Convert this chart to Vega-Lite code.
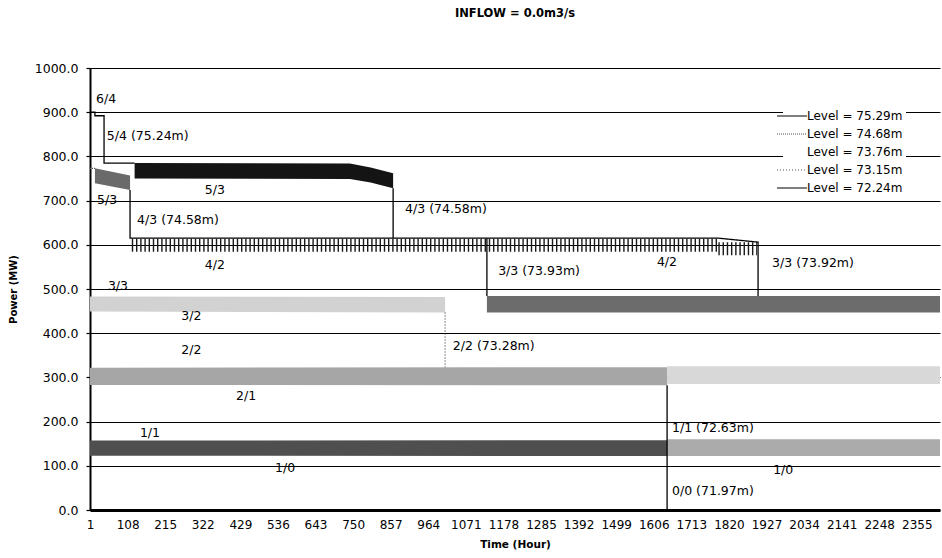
{
  "$schema": "https://vega.github.io/schema/vega-lite/v6.json",
  "width": 850,
  "height": 442,
  "autosize": "none",
  "padding": {"left": 90, "top": 68, "right": 2, "bottom": 48},
  "background": "white",
  "title": {"text": "INFLOW = 0.0m3/s", "font": "DejaVu Sans", "fontSize": 11.5, "fontWeight": "bold", "color": "black", "anchor": "middle", "offset": 43},
  "config": {"view": {"stroke": null}, "font": "DejaVu Sans"},
  "datasets": {
    "bands": [
      {"band": "b53a", "hour": 15, "mw": 773, "bot": 739},
      {"band": "b53a", "hour": 115, "mw": 757, "bot": 724},
      {"band": "b53", "hour": 128, "mw": 785, "bot": 750},
      {"band": "b53", "hour": 741, "mw": 784, "bot": 749},
      {"band": "b53", "hour": 800, "mw": 775, "bot": 741},
      {"band": "b53", "hour": 864, "mw": 762, "bot": 728},
      {"band": "b32", "hour": 1, "mw": 483, "bot": 449},
      {"band": "b32", "hour": 1012, "mw": 482, "bot": 447},
      {"band": "b21", "hour": 1, "mw": 322, "bot": 283},
      {"band": "b21", "hour": 1644, "mw": 323, "bot": 282},
      {"band": "b21r", "hour": 1644, "mw": 325, "bot": 285},
      {"band": "b21r", "hour": 2421, "mw": 325, "bot": 285},
      {"band": "b11", "hour": 1, "mw": 157, "bot": 123},
      {"band": "b11", "hour": 1644, "mw": 158, "bot": 122},
      {"band": "b11r", "hour": 1644, "mw": 160, "bot": 122},
      {"band": "b11r", "hour": 2421, "mw": 160, "bot": 122},
      {"band": "b33", "hour": 1131, "mw": 484, "bot": 447},
      {"band": "b33", "hour": 2421, "mw": 484, "bot": 447}
    ],
    "comb": [
      {"seg": "c1", "hour": 120, "mw": 599},
      {"seg": "c1", "hour": 1790, "mw": 599},
      {"seg": "c2", "hour": 1790, "mw": 591},
      {"seg": "c2", "hour": 1900, "mw": 591}
    ],
    "lines": [
      {"seg": "s1", "i": 1, "hour": 1, "mw": 900, "level": "Level = 75.29m"},
      {"seg": "s1", "i": 2, "hour": 15, "mw": 900, "level": "Level = 75.29m"},
      {"seg": "s1", "i": 3, "hour": 15, "mw": 892, "level": "Level = 75.29m"},
      {"seg": "s1", "i": 4, "hour": 41, "mw": 892, "level": "Level = 75.29m"},
      {"seg": "s1", "i": 5, "hour": 41, "mw": 785, "level": "Level = 75.29m"},
      {"seg": "s1", "i": 6, "hour": 128, "mw": 785, "level": "Level = 75.29m"},
      {"seg": "s2", "i": 1, "hour": 115, "mw": 724, "level": "Level = 75.29m"},
      {"seg": "s2", "i": 2, "hour": 115, "mw": 615, "level": "Level = 75.29m"},
      {"seg": "s2", "i": 3, "hour": 1790, "mw": 615, "level": "Level = 75.29m"},
      {"seg": "s2", "i": 4, "hour": 1903, "mw": 606, "level": "Level = 75.29m"},
      {"seg": "s2", "i": 5, "hour": 1903, "mw": 484, "level": "Level = 75.29m"},
      {"seg": "s3", "i": 1, "hour": 864, "mw": 728, "level": "Level = 75.29m"},
      {"seg": "s3", "i": 2, "hour": 864, "mw": 615, "level": "Level = 75.29m"},
      {"seg": "s4", "i": 1, "hour": 1131, "mw": 615, "level": "Level = 72.24m"},
      {"seg": "s4", "i": 2, "hour": 1131, "mw": 484, "level": "Level = 72.24m"},
      {"seg": "s5", "i": 1, "hour": 1, "mw": 773, "level": "Level = 74.68m"},
      {"seg": "s5", "i": 2, "hour": 15, "mw": 773, "level": "Level = 74.68m"},
      {"seg": "s6", "i": 1, "hour": 1012, "mw": 447, "level": "Level = 73.15m"},
      {"seg": "s6", "i": 2, "hour": 1012, "mw": 323, "level": "Level = 73.15m"},
      {"seg": "s7", "i": 1, "hour": 1644, "mw": 282, "level": "Level = 72.24m"},
      {"seg": "s7", "i": 2, "hour": 1644, "mw": 0, "level": "Level = 72.24m"}
    ],
    "labels": [
      {"label": "6/4", "hour": 18, "mw": 930},
      {"label": "5/4 (75.24m)", "hour": 49, "mw": 846},
      {"label": "5/3", "hour": 21, "mw": 701},
      {"label": "5/3", "hour": 328, "mw": 724},
      {"label": "4/3 (74.58m)", "hour": 135, "mw": 656},
      {"label": "4/3 (74.58m)", "hour": 898, "mw": 680},
      {"label": "4/2", "hour": 328, "mw": 554},
      {"label": "4/2", "hour": 1615, "mw": 560},
      {"label": "3/3 (73.93m)", "hour": 1163, "mw": 541},
      {"label": "3/3 (73.92m)", "hour": 1943, "mw": 559},
      {"label": "3/3", "hour": 52, "mw": 507},
      {"label": "3/2", "hour": 261, "mw": 439},
      {"label": "2/2", "hour": 261, "mw": 362},
      {"label": "2/2 (73.28m)", "hour": 1034, "mw": 371},
      {"label": "2/1", "hour": 417, "mw": 258},
      {"label": "1/1", "hour": 143, "mw": 174},
      {"label": "1/1 (72.63m)", "hour": 1658, "mw": 186},
      {"label": "1/0", "hour": 528, "mw": 95},
      {"label": "1/0", "hour": 1946, "mw": 91},
      {"label": "0/0 (71.97m)", "hour": 1658, "mw": 43}
    ]
  },
  "encoding": {
    "x": {
      "field": "hour", "type": "quantitative",
      "scale": {"domain": [1, 2421], "nice": false, "zero": false},
      "axis": {
        "title": "Time (Hour)",
        "values": [1, 108, 215, 322, 429, 536, 643, 750, 857, 964, 1071, 1178, 1285, 1392, 1499, 1606, 1713, 1820, 1927, 2034, 2141, 2248, 2355],
        "format": "d",
        "grid": false, "ticks": false,
        "domainColor": "black", "domainWidth": 3,
        "labelFont": "DejaVu Sans", "labelFontSize": 12, "labelColor": "black",
        "labelPadding": 9, "labelOverlap": false, "labelFlush": false,
        "titleFont": "DejaVu Sans", "titleFontSize": 10.5, "titleFontWeight": "bold", "titleColor": "black", "titlePadding": 9
      }
    },
    "y": {
      "field": "mw", "type": "quantitative",
      "scale": {"domain": [0, 1000], "nice": false},
      "axis": {
        "title": "Power (MW)",
        "values": [0, 100, 200, 300, 400, 500, 600, 700, 800, 900, 1000],
        "format": ".1f",
        "grid": true, "gridColor": "black", "gridWidth": 1.2, "gridOpacity": 1,
        "domainColor": "black", "domainWidth": 2,
        "tickColor": "black", "tickSize": 4, "tickWidth": 1.2,
        "labelFont": "DejaVu Sans", "labelFontSize": 12.5, "labelColor": "black", "labelPadding": 8,
        "titleFont": "DejaVu Sans", "titleFontSize": 10, "titleFontWeight": "bold", "titleColor": "black", "titlePadding": 16
      }
    }
  },
  "layer": [
    {
      "data": {"name": "bands"},
      "mark": {"type": "area", "opacity": 1},
      "encoding": {
        "y2": {"field": "bot"},
        "fill": {
          "field": "band", "type": "nominal", "legend": null,
          "scale": {
            "domain": ["b53a", "b53", "b32", "b21", "b21r", "b11", "b11r", "b33"],
            "range": ["#6a6a6a", "#141414", "#d2d2d2", "#a6a6a6", "#d8d8d8", "#4f4f4f", "#ababab", "#6c6c6c"]
          }
        }
      }
    },
    {
      "data": {"name": "comb"},
      "mark": {"type": "line", "color": "#1a1a1a", "strokeWidth": 13, "strokeDash": [1.4, 2.8]},
      "encoding": {"detail": {"field": "seg"}}
    },
    {
      "data": {"name": "lines"},
      "mark": {"type": "line", "strokeWidth": 1.3},
      "encoding": {
        "detail": {"field": "seg"},
        "order": {"field": "i", "type": "quantitative"},
        "stroke": {
          "field": "level", "type": "nominal",
          "scale": {
            "domain": ["Level = 75.29m", "Level = 74.68m", "Level = 73.76m", "Level = 73.15m", "Level = 72.24m"],
            "range": ["#000000", "#555555", "#ffffff", "#555555", "#000000"]
          },
          "legend": {
            "title": null, "orient": "none", "legendX": 693, "legendY": 39,
            "symbolType": "M-3.75,0H3.75", "symbolSize": 64, "symbolStrokeWidth": 1.2,
            "labelFont": "DejaVu Sans", "labelFontSize": 12, "labelColor": "black", "labelOffset": 9,
            "rowPadding": 6, "fillColor": "white", "padding": 3
          }
        },
        "strokeDash": {
          "field": "level", "type": "nominal",
          "scale": {
            "domain": ["Level = 75.29m", "Level = 74.68m", "Level = 73.76m", "Level = 73.15m", "Level = 72.24m"],
            "range": [[1, 0], [1, 1], [1, 0], [1, 2], [1, 0]]
          },
          "legend": {
            "title": null, "orient": "none", "legendX": 693, "legendY": 39,
            "symbolType": "M-3.75,0H3.75", "symbolSize": 64, "symbolStrokeWidth": 1.2,
            "labelFont": "DejaVu Sans", "labelFontSize": 12, "labelColor": "black", "labelOffset": 9,
            "rowPadding": 6, "fillColor": "white", "padding": 3
          }
        }
      }
    },
    {
      "data": {"name": "labels"},
      "mark": {"type": "text", "align": "left", "baseline": "middle", "font": "DejaVu Sans", "fontSize": 12.5, "color": "black"},
      "encoding": {"text": {"field": "label"}}
    }
  ]
}
